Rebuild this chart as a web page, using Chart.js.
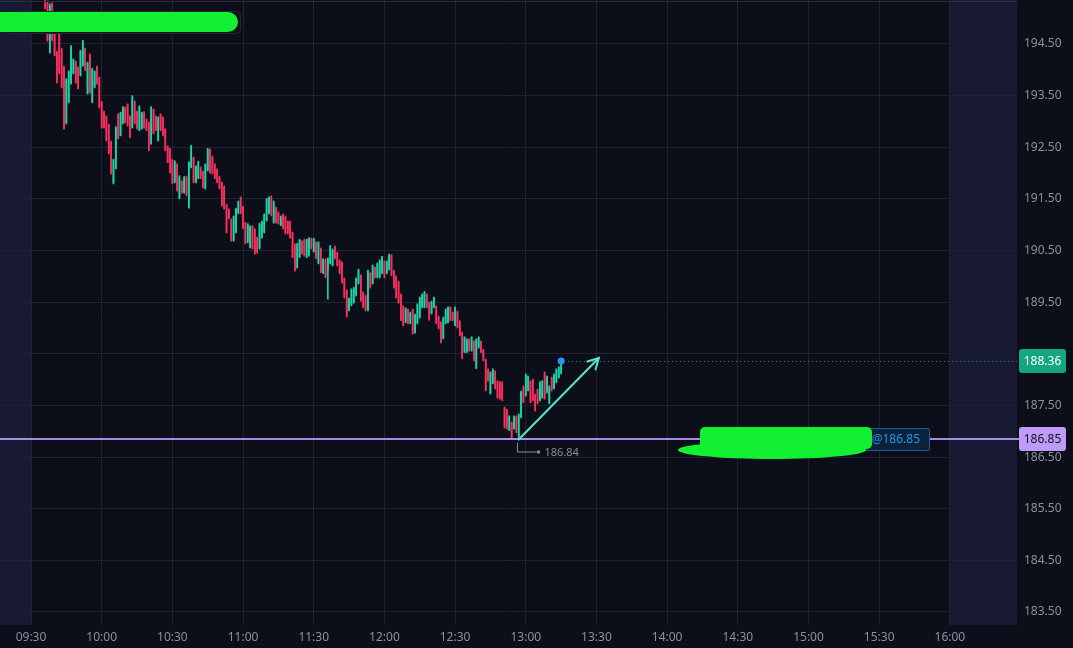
<!DOCTYPE html>
<html>
<head>
<meta charset="utf-8">
<script src="https://cdn.jsdelivr.net/npm/chart.js@4.4.1/dist/chart.umd.min.js"></script>
<style>
  html, body { margin: 0; padding: 0; background: #0c0f19; }
  #c { display: block; }
</style>
</head>
<body>
<canvas id="c" width="1073" height="648"></canvas>
<script>
// 1 minute candles, first visible bar is 09:36 (minute 6 after the open)
const firstMinute = 6;

const opens = [
  195.45,195.27,194.34,195.27,194.71,194.34,194.71,194.40,194.05,192.97,
  193.38,193.74,193.94,194.15,194.03,193.90,194.09,194.40,193.55,194.29,
  193.38,193.67,194.05,193.84,193.36,193.18,193.09,192.93,192.60,191.81,
  192.10,193.13,192.74,192.97,193.26,193.32,193.09,192.89,193.38,193.18,
  192.84,192.87,193.16,193.03,192.97,192.58,193.22,193.09,192.64,193.13,
  193.07,192.84,192.51,192.45,192.25,191.83,192.16,191.52,191.83,191.63,
  191.92,191.34,192.12,192.29,191.83,191.91,192.10,192.02,191.71,192.06,
  192.45,192.31,192.16,192.06,191.92,191.81,191.73,191.38,191.29,191.09,
  190.70,190.86,191.23,191.52,191.34,191.03,190.67,190.57,190.96,190.90,
  190.74,190.55,190.76,190.86,191.09,191.23,191.54,191.05,191.32,191.23,
  191.00,191.19,191.15,191.05,191.05,190.84,190.61,190.18,190.38,190.67,
  190.70,190.38,190.41,190.72,190.49,190.65,190.26,190.53,190.07,190.32,
  190.12,190.26,190.22,190.57,190.45,190.30,190.26,189.95,189.72,189.35,
  189.45,189.50,189.64,189.87,190.01,189.68,189.62,189.35,190.05,189.87,
  190.16,189.99,189.99,190.07,190.28,190.07,190.14,190.40,190.10,189.99,
  189.89,189.64,189.41,189.12,189.35,189.10,189.35,188.92,189.10,189.21,
  189.41,189.41,189.64,189.48,189.29,189.41,189.41,189.21,189.10,188.81,
  189.10,189.12,189.39,189.29,189.06,189.31,189.12,188.90,188.54,188.54,
  188.77,188.57,188.73,188.23,188.63,188.73,188.57,188.38,188.19,187.74,
  187.94,188.15,187.96,187.94,187.94,187.45,187.41,187.03,187.16,187.06,
  187.28,186.90,187.28,187.86,187.70,187.80,187.96,187.99,187.70,187.80,
  187.61,187.66,188.13,187.76,187.55,188.03,187.84,187.96,188.05,188.13
];
const highs = [
  195.52,195.33,195.28,195.30,194.74,194.36,194.73,194.42,194.07,193.83,
  193.98,194.47,194.21,194.17,194.06,194.38,194.57,194.42,194.15,194.31,
  194.03,193.98,194.07,193.86,193.39,193.20,193.11,192.95,192.62,192.27,
  192.90,193.15,193.18,193.29,193.28,193.34,193.11,193.50,193.40,193.20,
  193.30,193.18,193.19,193.05,192.99,193.29,193.24,193.11,193.09,193.15,
  193.09,192.86,192.53,192.48,192.27,192.24,192.18,191.95,191.85,191.93,
  191.94,192.22,192.54,192.31,192.14,192.23,192.12,192.04,192.18,192.48,
  192.47,192.33,192.18,192.08,191.94,191.83,191.75,191.40,191.31,191.11,
  191.17,191.32,191.46,191.54,191.36,191.05,191.02,190.98,190.98,190.92,
  190.76,191.03,191.07,191.21,191.51,191.54,191.56,191.46,191.34,191.25,
  191.17,191.21,191.17,191.07,191.07,190.86,190.63,190.64,190.72,190.69,
  190.72,190.72,190.75,190.74,190.74,190.67,190.67,190.55,190.34,190.34,
  190.36,190.60,190.53,190.59,190.47,190.32,190.28,189.97,189.74,189.58,
  189.76,189.79,189.97,190.14,190.03,189.70,189.64,190.12,190.07,190.22,
  190.18,190.26,190.32,190.39,190.30,190.30,190.43,190.42,190.12,190.01,
  189.91,189.66,189.43,189.39,189.37,189.31,189.37,189.27,189.47,189.60,
  189.66,189.71,189.66,189.50,189.52,189.60,189.43,189.23,189.12,189.21,
  189.37,189.41,189.41,189.31,189.41,189.33,189.14,188.92,188.83,188.79,
  188.79,188.83,188.75,188.79,188.83,188.75,188.59,188.40,188.21,188.15,
  188.21,188.17,187.98,187.96,187.96,187.47,187.43,187.30,187.18,187.30,
  187.30,187.34,187.78,187.88,188.11,188.07,187.98,188.01,187.72,187.82,
  187.96,187.98,188.15,188.07,187.88,188.05,188.11,188.21,188.25,188.38
];
const lows = [
  195.18,194.55,194.32,194.56,194.27,193.74,193.92,193.65,192.85,192.95,
  193.36,193.72,193.92,193.74,193.63,193.88,194.07,193.98,193.53,193.55,
  193.36,193.65,193.72,193.26,192.87,192.87,192.62,192.37,191.98,191.79,
  192.08,192.66,192.72,192.95,192.97,192.91,192.68,192.87,192.95,192.85,
  192.82,192.85,192.87,192.82,192.43,192.56,192.76,192.82,192.62,192.82,
  192.72,192.43,192.20,192.00,191.79,191.81,191.65,191.50,191.61,191.61,
  191.56,191.32,192.10,191.81,191.81,191.89,191.89,191.71,191.69,192.04,
  192.00,191.98,191.89,191.81,191.69,191.36,191.30,190.84,191.11,190.68,
  190.68,190.84,191.21,191.21,190.92,190.63,190.65,190.55,190.53,190.43,
  190.45,190.53,190.74,190.84,191.07,191.21,191.17,191.03,191.03,191.01,
  190.98,190.92,190.82,190.82,190.74,190.36,190.10,190.16,190.36,190.43,
  190.39,190.36,190.39,190.53,190.47,190.34,190.24,190.07,190.05,189.97,
  189.56,190.24,190.20,190.34,190.20,190.05,189.87,189.58,189.21,189.33,
  189.43,189.48,189.62,189.85,189.52,189.39,189.33,189.33,189.77,189.85,
  189.97,189.97,189.97,190.05,189.97,190.05,190.12,190.01,189.77,189.58,
  189.48,189.14,189.04,189.10,189.08,189.08,188.88,188.90,189.08,189.19,
  189.39,189.39,189.39,189.15,189.27,189.39,189.08,188.98,188.71,188.79,
  189.08,189.10,189.14,189.14,189.04,189.00,188.85,188.40,188.52,188.52,
  188.55,188.55,188.36,188.21,188.61,188.52,188.36,187.78,187.97,187.72,
  187.92,187.82,187.64,187.62,187.59,187.06,187.04,187.01,186.87,187.04,
  186.97,186.84,187.26,187.55,187.68,187.78,187.55,187.59,187.39,187.53,
  187.59,187.64,187.62,187.74,187.53,187.78,187.82,187.94,188.03,188.11
];
const closes = [
  195.20,194.58,195.24,194.58,194.29,193.76,193.94,193.67,192.87,193.80,
  193.96,194.44,194.19,193.76,193.65,194.36,194.54,194.00,194.13,193.57,
  194.00,193.96,193.74,193.28,192.89,192.89,192.64,192.39,192.00,192.25,
  192.87,192.68,193.16,193.26,192.99,192.93,192.70,193.47,192.97,192.87,
  193.28,193.16,192.89,192.84,192.45,193.26,192.78,192.84,193.07,192.84,
  192.74,192.45,192.22,192.02,191.81,192.22,191.67,191.92,191.63,191.91,
  191.58,192.20,192.51,191.83,192.12,192.20,191.91,191.73,192.16,192.45,
  192.02,192.00,191.91,191.83,191.71,191.38,191.32,190.86,191.13,190.70,
  191.15,191.29,191.44,191.23,190.94,190.65,191.00,190.96,190.55,190.45,
  190.47,191.00,191.05,191.19,191.48,191.52,191.19,191.44,191.05,191.03,
  191.15,190.94,190.84,190.84,190.76,190.38,190.12,190.61,190.70,190.45,
  190.41,190.70,190.72,190.55,190.72,190.36,190.65,190.09,190.32,189.99,
  190.34,190.57,190.51,190.36,190.22,190.07,189.89,189.60,189.23,189.56,
  189.74,189.76,189.95,190.12,189.54,189.41,189.35,190.10,189.79,190.20,
  189.99,190.24,190.30,190.36,189.99,190.28,190.41,190.03,189.79,189.60,
  189.50,189.16,189.06,189.37,189.10,189.29,188.90,189.25,189.45,189.58,
  189.64,189.68,189.41,189.17,189.50,189.58,189.10,189.00,188.73,189.19,
  189.35,189.39,189.16,189.16,189.39,189.02,188.87,188.42,188.81,188.77,
  188.57,188.81,188.38,188.77,188.81,188.54,188.38,187.80,187.99,188.13,
  188.19,187.84,187.66,187.64,187.61,187.08,187.06,187.28,186.89,187.28,
  186.99,187.32,187.76,187.57,188.09,188.05,187.57,187.61,187.41,187.55,
  187.94,187.96,187.64,188.05,187.86,187.80,188.09,188.19,188.23,188.36
];

// axis ticks (minutes after 09:30) and labels
const timeTicks  = [0, 30, 60, 90, 120, 150, 180, 210, 240, 270, 300, 330, 360, 390];
const timeLabels = ['09:30','10:00','10:30','11:00','11:30','12:00','12:30','13:00','13:30','14:00','14:30','15:00','15:30','16:00'];
const priceTicks = [194.5, 193.5, 192.5, 191.5, 190.5, 189.5, 188.5, 187.5, 186.5, 185.5, 184.5, 183.5];

// session and drawing values
const sessionOpen = 0;
const sessionClose = 390;
const lastPrice = 188.36;
const orderPrice = 186.85;
const lowPrice = 186.84;
const lowMinute = 207;
const arrowFrom = [207, 186.84];
const arrowTo = [241, 188.42];

const bg = '#0c0f19';
const gridCol = '#1f2231';
const textCol = '#8d909b';
const upCol = '#1dd3a7';
const downCol = '#f5315d';

const minutes = closes.map((c, i) => firstMinute + i);
const candleCols = closes.map((c, i) => c >= opens[i] ? upCol : downCol);

Chart.defaults.font.family = "'Noto Sans', sans-serif";

const sessionShade = {
  id: 'sessionShade',
  beforeDraw(chart) {
    const {ctx, chartArea: a, scales: {x}} = chart;
    ctx.save();
    ctx.fillStyle = bg;
    ctx.fillRect(0, 0, chart.width, chart.height);
    ctx.fillStyle = '#181a33';
    const x0 = x.getPixelForValue(sessionOpen);
    const x1 = x.getPixelForValue(sessionClose);
    ctx.fillRect(a.left, a.top, x0 - a.left, a.bottom - a.top);
    ctx.fillRect(x1, a.top, a.right - x1, a.bottom - a.top);
    ctx.restore();
  }
};

const overlays = {
  id: 'overlays',
  afterDraw(chart) {
    const {ctx, chartArea: a, scales: {x, y}} = chart;
    const px = v => x.getPixelForValue(v);
    const py = v => y.getPixelForValue(v);
    ctx.save();

    // top border
    ctx.strokeStyle = '#2a2d3a';
    ctx.lineWidth = 1;
    ctx.beginPath(); ctx.moveTo(0, 1.5); ctx.lineTo(a.right, 1.5); ctx.stroke();

    // dotted last price line
    const lastX = px(minutes[minutes.length - 1]);
    const yLast = Math.round(py(lastPrice)) + 0.5;
    ctx.strokeStyle = '#1c8f78';
    ctx.setLineDash([1, 3]);
    ctx.beginPath(); ctx.moveTo(lastX + 3, yLast); ctx.lineTo(a.right, yLast); ctx.stroke();
    ctx.setLineDash([]);

    // order line
    const yOrd = py(orderPrice);
    ctx.strokeStyle = '#a68ce8';
    ctx.lineWidth = 2;
    ctx.beginPath(); ctx.moveTo(0, yOrd); ctx.lineTo(a.right + 4, yOrd); ctx.stroke();

    // order tag
    ctx.fillStyle = '#0b2238';
    ctx.strokeStyle = '#1d5f94';
    ctx.lineWidth = 1;
    ctx.beginPath(); ctx.roundRect(712.5, yOrd - 10.5, 217, 22, 2); ctx.fill(); ctx.stroke();
    ctx.fillStyle = '#2396f0';
    ctx.font = "12px 'Noto Sans'";
    ctx.textAlign = 'right';
    ctx.textBaseline = 'middle';
    ctx.fillText('@' + orderPrice.toFixed(2), 920, yOrd + 0.5);

    // arrow
    const x1 = px(arrowFrom[0]), y1 = py(arrowFrom[1]);
    const x2 = px(arrowTo[0]), y2 = py(arrowTo[1]);
    const ang = Math.atan2(y2 - y1, x2 - x1);
    ctx.strokeStyle = '#5be3c6';
    ctx.lineWidth = 2;
    ctx.lineCap = 'round';
    ctx.beginPath(); ctx.moveTo(x1, y1); ctx.lineTo(x2, y2); ctx.stroke();
    ctx.beginPath();
    ctx.moveTo(x2 - 12 * Math.cos(ang - 0.5), y2 - 12 * Math.sin(ang - 0.5));
    ctx.lineTo(x2, y2);
    ctx.lineTo(x2 - 12 * Math.cos(ang + 0.5), y2 - 12 * Math.sin(ang + 0.5));
    ctx.stroke();

    // last price dot
    ctx.fillStyle = '#2196f3';
    ctx.beginPath(); ctx.arc(lastX, py(lastPrice), 3.5, 0, Math.PI * 2); ctx.fill();

    // low marker
    const lx = Math.round(px(lowMinute)) - 1.5;
    const ly = py(lowPrice);
    ctx.strokeStyle = '#8a8d98';
    ctx.lineWidth = 1;
    ctx.lineCap = 'butt';
    ctx.beginPath(); ctx.moveTo(lx, ly + 3); ctx.lineTo(lx, ly + 12.5); ctx.lineTo(lx + 19, ly + 12.5); ctx.stroke();
    ctx.fillStyle = '#8a8d98';
    ctx.beginPath(); ctx.arc(lx + 21, ly + 12.5, 1.8, 0, Math.PI * 2); ctx.fill();
    ctx.font = "11px 'Noto Sans'";
    ctx.textAlign = 'left';
    ctx.fillText(lowPrice.toFixed(2), lx + 27, ly + 13);

    // price scale tags
    const tag = (val, fill, txt) => {
      const yy = py(val);
      ctx.fillStyle = fill;
      ctx.beginPath(); ctx.roundRect(a.right + 2, yy - 12, 47, 24, 3); ctx.fill();
      ctx.fillStyle = txt;
      ctx.font = "12px 'Noto Sans'";
      ctx.textAlign = 'center';
      ctx.textBaseline = 'middle';
      ctx.fillText(val.toFixed(2), a.right + 25.5, yy + 0.5);
    };
    tag(lastPrice, '#13a680', '#ffffff');
    tag(orderPrice, '#bd9bfb', '#10121b');

    // legend box (masked) top left
    ctx.fillStyle = '#0f121c';
    ctx.strokeStyle = '#232634';
    ctx.beginPath(); ctx.roundRect(6.5, 11.5, 234, 22, 4); ctx.fill(); ctx.stroke();

    // green masking strokes
    ctx.fillStyle = '#12f032';
    ctx.beginPath(); ctx.roundRect(-12, 12, 250, 20, 10); ctx.fill();
    ctx.beginPath(); ctx.roundRect(700, yOrd - 12, 172, 22, 5); ctx.fill();
    ctx.beginPath(); ctx.ellipse(772, yOrd + 11, 94, 9, 0, 0, Math.PI * 2); ctx.fill();

    ctx.restore();
  }
};

new Chart(document.getElementById('c'), {
  type: 'bar',
  data: {
    datasets: [
      {
        label: 'wick',
        data: minutes.map((m, i) => ({x: m, y: [lows[i], highs[i]]})),
        backgroundColor: candleCols,
        barThickness: 1,
        grouped: false,
        borderWidth: 0,
        borderSkipped: false
      },
      {
        label: 'body',
        data: minutes.map((m, i) => ({x: m, y: [opens[i], closes[i]]})),
        backgroundColor: candleCols,
        barThickness: 1,
        grouped: false,
        borderWidth: 0,
        borderSkipped: false
      }
    ]
  },
  options: {
    responsive: false,
    animation: false,
    events: [],
    layout: {padding: 0},
    plugins: {legend: {display: false}, tooltip: {enabled: false}},
    scales: {
      x: {
        type: 'linear',
        min: -13.16,
        max: 418.5,
        offset: false,
        afterBuildTicks: s => { s.ticks = timeTicks.map(v => ({value: v})); },
        afterFit: s => { s.height = 23; s.paddingLeft = 0; s.paddingRight = 0; },
        ticks: {
          autoSkip: false,
          maxRotation: 0,
          color: textCol,
          padding: 5,
          font: {size: 12},
          callback: (v, i) => timeLabels[i]
        },
        grid: {color: gridCol, drawTicks: false, offset: false},
        border: {display: false}
      },
      y: {
        position: 'right',
        min: 183.248,
        max: 195.352,
        beginAtZero: false,
        afterBuildTicks: s => { s.ticks = priceTicks.map(v => ({value: v})); },
        afterFit: s => { s.width = 56; s.paddingTop = 0; s.paddingBottom = 0; },
        ticks: {
          color: textCol,
          padding: 7,
          font: {size: 12},
          // the scale hides a label that sits under the last price tag
          callback: v => Math.abs(v - lastPrice) < 0.25 ? '' : v.toFixed(2)
        },
        grid: {color: gridCol, drawTicks: false},
        border: {display: false}
      }
    }
  },
  plugins: [sessionShade, overlays]
});
</script>
</body>
</html>
